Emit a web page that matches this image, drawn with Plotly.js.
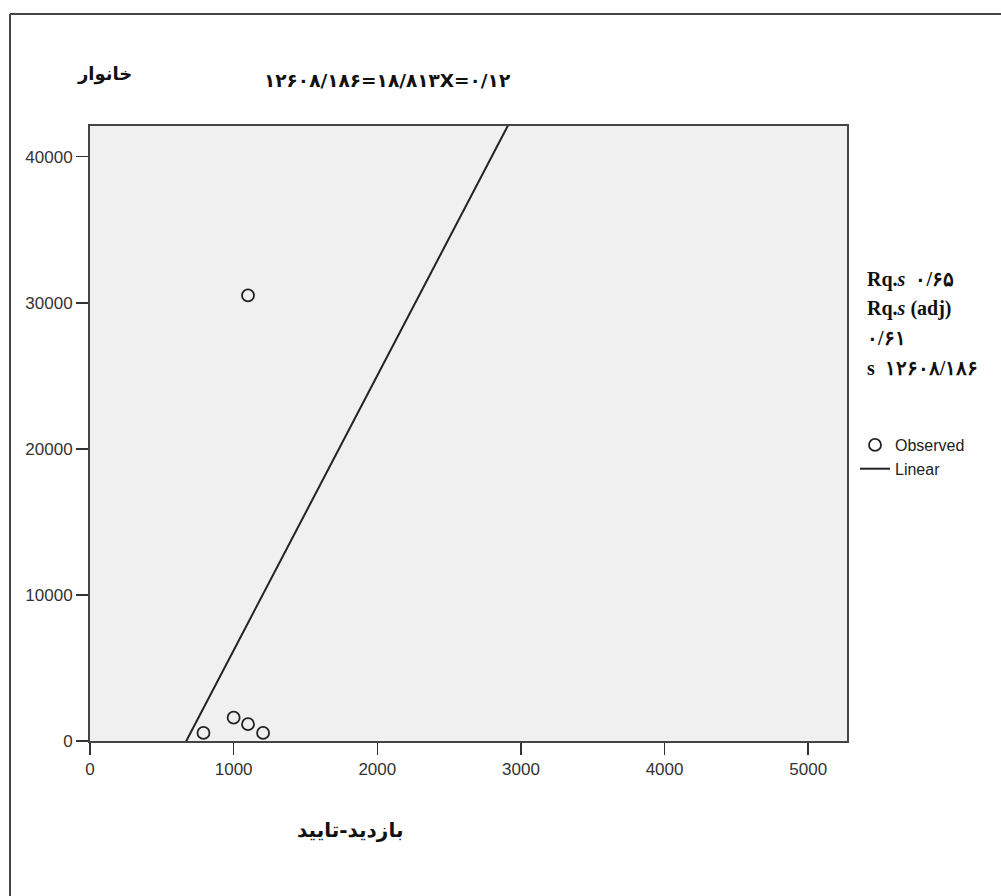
<!DOCTYPE html>
<html>
<head>
<meta charset="utf-8">
<script src="https://cdn.plot.ly/plotly-3.0.1.min.js"></script>
<style>html,body{margin:0;padding:0;background:#fff;}#chart{width:1001px;height:896px;}</style>
</head>
<body>
<div id="chart"></div>
<script>
// Observed data points
var observedX = [790, 1000, 1100, 1100, 1205];
var observedY = [550, 1600, 1150, 30500, 550];
// Linear fit coefficients (from the equation shown)
var fitSlope = 18.813;
var fitIntercept = -12608.186;
// Axis ranges and ticks
var xRange = [0, 5270];
var yRange = [0, 42100];
var xTicks = [0, 1000, 2000, 3000, 4000, 5000];
var yTicks = [0, 10000, 20000, 30000, 40000];
// Texts
var yTitle = "خانوار";
var xTitle = "بازدید-تایید";
var equationText = "۱۲۶۰۸/۱۸۶=۱۸/۸۱۳X=۰/۱۲";
var statLines = ["Rq.<i>s</i>  ۰/۶۵", "Rq.<i>s</i> (adj)", "۰/۶۱", "s  ۱۲۶۰۸/۱۸۶"];
var legendNames = ["Observed", "Linear"];

var lineX = [xRange[0], xRange[1]];
var lineY = lineX.map(function (x) { return fitSlope * x + fitIntercept; });

var W = 1001, H = 896;
var L = 90, R = 847, T = 126, B = 741;
function px(x) { return (x - L) / (R - L); }
function py(y) { return (B - y) / (B - T); }

var traces = [
  {
    type: "scatter", mode: "markers", name: legendNames[0],
    x: observedX, y: observedY,
    marker: { symbol: "circle-open", size: 12, color: "#222", line: { width: 1.8, color: "#222" } },
    cliponaxis: true
  },
  {
    type: "scatter", mode: "lines", name: legendNames[1],
    x: lineX, y: lineY,
    line: { color: "#222", width: 2 }
  }
];

var serif = { family: "Liberation Serif, DejaVu Serif, serif", size: 20, color: "#111" };
var tickFont = { family: "Liberation Sans, Arial, sans-serif", size: 17, color: "#333" };

var annotations = [
  { text: "<b>" + yTitle + "</b>", xref: "paper", yref: "paper", x: px(134), y: py(74), xanchor: "right", yanchor: "middle", showarrow: false, font: { family: "DejaVu Sans, sans-serif", size: 18, color: "#111" } },
  { text: "<b>" + equationText + "</b>", xref: "paper", yref: "paper", x: px(262), y: py(81), xanchor: "left", yanchor: "middle", showarrow: false, font: { family: "DejaVu Sans, sans-serif", size: 18.5, color: "#111" } },
  { text: "<b>" + xTitle + "</b>", xref: "paper", yref: "paper", x: px(350), y: py(830), xanchor: "center", yanchor: "middle", showarrow: false, font: { family: "DejaVu Sans, sans-serif", size: 20, color: "#111" } }
];
var statY = [279, 308, 338, 368];
statLines.forEach(function (t, i) {
  annotations.push({ text: "<b>" + t + "</b>", xref: "paper", yref: "paper", x: px(865), y: py(statY[i]), xanchor: "left", yanchor: "middle", showarrow: false, font: serif });
});

var layout = {
  width: W, height: H,
  margin: { l: L, r: W - R, t: T, b: H - B, pad: 0 },
  paper_bgcolor: "#ffffff",
  plot_bgcolor: "#f0f0f0",
  showlegend: true,
  legend: {
    x: px(855), y: py(428), xanchor: "left", yanchor: "top",
    bgcolor: "rgba(0,0,0,0)", borderwidth: 0,
    font: { family: "Liberation Sans, Arial, sans-serif", size: 16, color: "#222" },
    itemwidth: 30, tracegroupgap: 0
  },
  xaxis: {
    range: xRange, tickvals: xTicks, ticktext: xTicks.map(String),
    showgrid: false, zeroline: false,
    showline: true, linecolor: "#444", linewidth: 2, mirror: true,
    ticks: "outside", ticklen: 12, tickwidth: 1.5, tickcolor: "#333",
    tickfont: tickFont
  },
  yaxis: {
    range: yRange, tickvals: yTicks, ticktext: yTicks.map(String),
    showgrid: false, zeroline: false,
    showline: true, linecolor: "#444", linewidth: 2, mirror: true,
    ticks: "outside", ticklen: 12, tickwidth: 1.5, tickcolor: "#333",
    tickfont: tickFont
  },
  annotations: annotations,
  shapes: [
    { type: "line", xref: "paper", yref: "paper", x0: px(10), x1: px(10), y0: py(14), y1: py(896), line: { color: "#444", width: 2 } },
    { type: "line", xref: "paper", yref: "paper", x0: px(10), x1: px(1001), y0: py(14), y1: py(14), line: { color: "#444", width: 2 } }
  ]
};

Plotly.newPlot("chart", traces, layout, { displayModeBar: false, staticPlot: true });
</script>
</body>
</html>
